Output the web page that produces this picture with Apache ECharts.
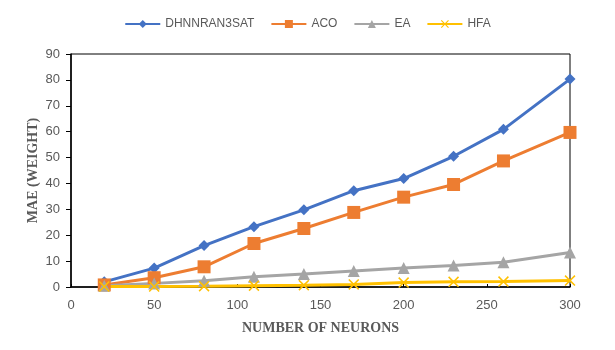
<!DOCTYPE html>
<html>
<head>
<meta charset="utf-8">
<script src="https://cdn.jsdelivr.net/npm/echarts@6/dist/echarts.min.js"></script>
<style>
  html, body { margin: 0; padding: 0; background: #fff; }
  #chart { width: 615px; height: 350px; }
</style>
</head>
<body>
<div id="chart"></div>
<script>
'use strict';
// neurons on x
var neurons = [20, 50, 80, 110, 140, 170, 200, 230, 260, 300];
var dhnnran3sat = [2.0, 7.3, 16.0, 23.3, 29.8, 37.2, 41.9, 50.5, 60.9, 80.3];
var aco = [0.8, 3.6, 7.8, 16.8, 22.6, 28.8, 34.7, 39.6, 48.7, 59.7];
var ea = [0.5, 1.4, 2.4, 4.0, 5.0, 6.2, 7.3, 8.3, 9.6, 13.3];
var hfa = [0.2, 0.2, 0.3, 0.5, 0.7, 1.0, 1.7, 2.0, 2.1, 2.5];
var xTicks = [0, 50, 100, 150, 200, 250, 300];
var yTicks = [0, 10, 20, 30, 40, 50, 60, 70, 80, 90];

var crossPath = 'path://M0,1L1,0L5,4L9,0L10,1L6,5L10,9L9,10L5,6L1,10L0,9L4,5Z';

function pairs(ys) {
    return neurons.map(function(x, i) { return [x, ys[i]]; });
}

function mkSeries(name, ys, color, symbol, size) {
    return {
        name: name,
        type: 'line',
        data: pairs(ys),
        symbol: symbol,
        symbolSize: size,
        lineStyle: { color: color, width: 3 },
        itemStyle: { color: color },
        emphasis: { disabled: true }
    };
}

var chart = echarts.init(document.getElementById('chart'));
chart.setOption({
    animation: false,
    textStyle: { fontFamily: 'Liberation Sans' },
    legend: {
        top: 13,
        left: 'center',
        itemWidth: 35,
        itemHeight: 10,
        itemGap: 16,
        textStyle: { color: '#595959', fontSize: 12 }
    },
    grid: {
        left: 71, right: 45, top: 54, bottom: 63,
        show: true, borderColor: '#000', borderWidth: 1
    },
    xAxis: {
        type: 'value',
        min: xTicks[0],
        max: xTicks[xTicks.length - 1],
        interval: 50,
        name: 'NUMBER OF NEURONS',
        nameLocation: 'middle',
        nameGap: 34,
        nameTextStyle: { fontFamily: 'Liberation Serif', fontWeight: 'bold', fontSize: 14, color: '#595959' },
        axisLine: { lineStyle: { color: '#000', width: 1.5 } },
        axisTick: { inside: true, length: 3, lineStyle: { color: '#000' } },
        axisLabel: { color: '#595959', fontSize: 13, margin: 12 },
        splitLine: { show: false }
    },
    yAxis: {
        type: 'value',
        min: yTicks[0],
        max: yTicks[yTicks.length - 1],
        interval: 10,
        name: 'MAE (WEIGHT)',
        nameLocation: 'middle',
        nameGap: 31,
        nameMoveOverlap: false,
        nameTextStyle: { fontFamily: 'Liberation Serif', fontWeight: 'bold', fontSize: 14, color: '#595959' },
        axisLine: { show: true, lineStyle: { color: '#000', width: 1.5 } },
        axisTick: { show: true, length: 5, lineStyle: { color: '#000' } },
        axisLabel: { color: '#595959', fontSize: 13, margin: 11 },
        splitLine: { show: false }
    },
    series: [
        mkSeries('DHNNRAN3SAT', dhnnran3sat, '#4472C4', 'diamond', 11),
        mkSeries('ACO', aco, '#ED7D31', 'rect', 13),
        mkSeries('EA', ea, '#A5A5A5', 'triangle', 12),
        mkSeries('HFA', hfa, '#FFC000', crossPath, 11)
    ]
});
</script>
</body>
</html>
